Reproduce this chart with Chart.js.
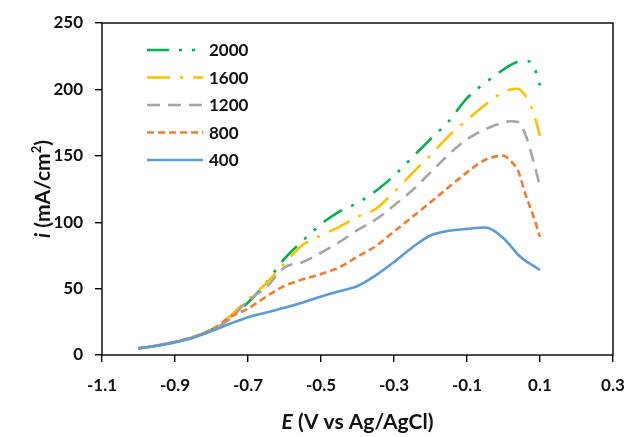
<!DOCTYPE html>
<html>
<head>
<meta charset="utf-8">
<script src="https://cdn.jsdelivr.net/npm/chart.js@4.4.1/dist/chart.umd.min.js"></script>
<style>
  html, body { margin: 0; padding: 0; background: #fff; }
  #wrap { width: 628px; height: 437px; }
</style>
</head>
<body>
<div id="wrap"><canvas id="cv" width="628" height="437"></canvas></div>
<script>
// potential grid (V vs Ag/AgCl)
const potential = [-1.0, -0.95, -0.9, -0.85, -0.8, -0.75, -0.7, -0.65, -0.6, -0.55, -0.5,
  -0.45, -0.4, -0.35, -0.3, -0.25, -0.2, -0.15, -0.1, -0.05, 0.0, 0.02, 0.04, 0.06, 0.08, 0.1];

// current density, mA/cm2, one list per rotation rate
const i400  = [5, 7, 9.5, 13, 18, 23.5, 28.5, 32, 35.5, 39.5, 44, 48, 52, 60, 70, 81, 90, 93.5, 95, 96, 88, 82, 75.5, 71, 67.5, 64];
const i800  = [5, 7, 10, 13.5, 19, 28.5, 35, 44, 52, 57, 61, 66, 74, 82, 93, 104, 115, 126.5, 137.5, 147, 150, 146, 138.5, 121, 106, 89];
const i1200 = [5, 7, 10, 13.5, 19, 27, 41, 51, 66, 70, 77, 85, 94, 102, 112.6, 124, 137.5, 151, 162.5, 170, 175, 176, 175.5, 166, 148, 127];
const i1600 = [5, 7, 10, 13.5, 19, 29, 42, 54, 69, 83, 90, 96.5, 104, 110, 122.7, 137, 150.5, 165, 177, 188.5, 198, 200, 200.5, 195, 184, 165];
const i2000 = [5, 7, 10, 13.5, 19, 28, 39.5, 54.5, 72.5, 86, 98.5, 108, 114.5, 123.5, 135, 148.8, 162.5, 176, 193.5, 205, 215, 218.5, 221, 221.5, 219, 203];

const seriesNames = ['400', '800', '1200', '1600', '2000'];
const xTicks = [-1.1, -0.9, -0.7, -0.5, -0.3, -0.1, 0.1, 0.3];
const yTicks = [0, 50, 100, 150, 200, 250];

const FONT = 'Lato, "Open Sans", sans-serif';
const TXT = '#111';

const pts = ys => potential.map((x, k) => ({ x: x, y: ys[k] }));

function ds(name, ys, color, dash) {
  return {
    label: name, data: pts(ys),
    borderColor: color, backgroundColor: color,
    borderWidth: 2.6, borderDash: dash, borderCapStyle: 'butt',
    pointRadius: 0, cubicInterpolationMode: 'monotone', fill: false
  };
}

// frame around plot, custom legend and axis titles
const decor = {
  id: 'decor',
  afterDraw(chart) {
    const { ctx, chartArea: a } = chart;
    ctx.save();
    ctx.strokeStyle = '#000';
    ctx.lineWidth = 1.4;
    ctx.strokeRect(a.left, a.top, a.right - a.left, a.bottom - a.top);

    // legend (top entry = last dataset)
    const list = chart.data.datasets.slice().reverse();
    ctx.font = 'bold 17px ' + FONT;
    ctx.textBaseline = 'middle';
    list.forEach((d, k) => {
      const y = 50 + k * 27.5;
      ctx.beginPath();
      ctx.setLineDash(d.borderDash || []);
      ctx.strokeStyle = d.borderColor;
      ctx.lineWidth = d.borderWidth;
      ctx.moveTo(147, y); ctx.lineTo(203, y);
      ctx.stroke();
      ctx.setLineDash([]);
      ctx.fillStyle = TXT;
      ctx.fillText(d.label, 209, y + 1);
    });

    // x title
    ctx.fillStyle = TXT;
    ctx.textBaseline = 'alphabetic';
    const xParts = [['italic bold 21px ', 'E'], ['bold 21px ', ' (V vs Ag/AgCl)']];
    let w = 0;
    xParts.forEach(p => { ctx.font = p[0] + FONT; w += ctx.measureText(p[1]).width; });
    let x = (a.left + a.right) / 2 - w / 2;
    xParts.forEach(p => { ctx.font = p[0] + FONT; ctx.fillText(p[1], x, 429); x += ctx.measureText(p[1]).width; });

    // y title, rotated
    ctx.translate(50, (a.top + a.bottom) / 2);
    ctx.rotate(-Math.PI / 2);
    const yParts = [['italic bold 21px ', 'i', 0], ['bold 21px ', ' (mA/cm', 0], ['bold 13px ', '2', -9], ['bold 21px ', ')', 0]];
    w = 0;
    yParts.forEach(p => { ctx.font = p[0] + FONT; w += ctx.measureText(p[1]).width; });
    x = -w / 2;
    yParts.forEach(p => { ctx.font = p[0] + FONT; ctx.fillText(p[1], x, p[2]); x += ctx.measureText(p[1]).width; });
    ctx.restore();
  }
};

new Chart(document.getElementById('cv'), {
  type: 'line',
  data: {
    datasets: [
      ds(seriesNames[0], i400, '#5B9BD5', []),
      ds(seriesNames[1], i800, '#ED7D31', [7, 4]),
      ds(seriesNames[2], i1200, '#A5A5A5', [13, 8]),
      ds(seriesNames[3], i1600, '#FFC000', [23, 10, 3, 10]),
      ds(seriesNames[4], i2000, '#00B050', [22, 10, 3, 10, 3, 10])
    ]
  },
  options: {
    responsive: false, animation: false,
    layout: { padding: { top: 23, right: 15, left: 0, bottom: 0 } },
    plugins: { legend: { display: false }, tooltip: { enabled: false } },
    scales: {
      x: {
        type: 'linear', min: -1.1, max: 0.3,
        afterFit: s => { s.height = 82; s.paddingLeft = 0; s.paddingRight = 0; },
        afterBuildTicks: s => { s.ticks = xTicks.map(v => ({ value: v })); },
        border: { display: false },
        grid: { drawOnChartArea: false, drawTicks: true, tickLength: 7, tickColor: '#000', lineWidth: 1.4 },
        ticks: { color: TXT, padding: 13, maxRotation: 0, font: { family: FONT, size: 17, weight: 'bold' },
          callback: v => v.toFixed(1) }
      },
      y: {
        min: 0, max: 250,
        afterFit: s => { s.width = 102; s.paddingTop = 0; s.paddingBottom = 0; },
        afterBuildTicks: s => { s.ticks = yTicks.map(v => ({ value: v })); },
        border: { display: false },
        grid: { drawOnChartArea: false, drawTicks: true, tickLength: 7, tickColor: '#000', lineWidth: 1.4 },
        ticks: { color: TXT, padding: 12, font: { family: FONT, size: 17, weight: 'bold' } }
      }
    }
  },
  plugins: [decor]
});
</script>
</body>
</html>
